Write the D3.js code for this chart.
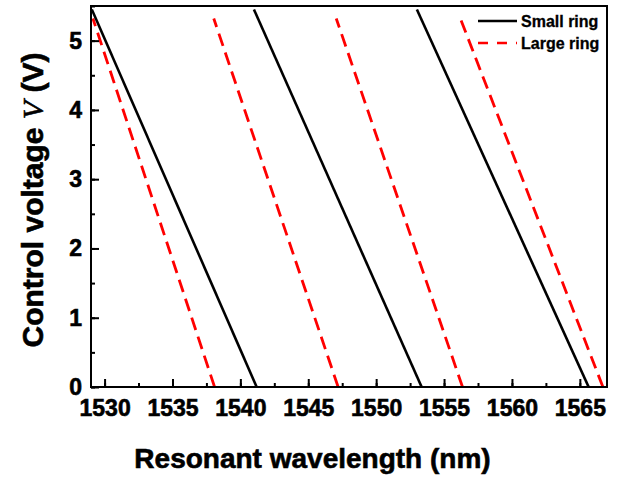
<!DOCTYPE html>
<html>
<head>
<meta charset="utf-8">
<script src="https://cdn.jsdelivr.net/npm/d3@7"></script>
<style>
  body { margin: 0; background: #fff; }
  text { font-family: "Liberation Sans", Arial, sans-serif; font-weight: bold; }
</style>
</head>
<body>
<div id="chart"></div>
<script>
// voltage at the ends of each line (V)
const smallRingV = [0, 5.45];
const largeRingV = [0, 5.32];
// resonant wavelength (nm) at those voltages, one pair per mode
const smallRingModes = [[1541.2, 1529.06], [1553.35, 1541.0], [1565.65, 1553.0]];
const largeRingModes = [[1538.1, 1529.14], [1547.2, 1538.04], [1556.36, 1547.06], [1566.7, 1556.2]];
const xTicks = [1530, 1535, 1540, 1545, 1550, 1555, 1560, 1565];
const yTicks = [0, 1, 2, 3, 4, 5];
const legendLabels = ["Small ring", "Large ring"];

const W = 627, H = 479;
const margin = {top: 6, right: 20, bottom: 92, left: 91}
    , width = W - margin.left - margin.right
    , height = H - margin.top - margin.bottom;

const x = d3.scaleLinear().domain([1529, 1567]).range([0, width]);
const y = d3.scaleLinear().domain([0, 5.5]).range([height, 0]);

const svg = d3.select("#chart").append("svg")
    .attr("width", W)
    .attr("height", H)
    .append("g")
    .attr("transform", "translate(" + margin.left + "," + margin.top + ")");

// clip so lines stay inside the frame
svg.append("clipPath").attr("id", "clip")
    .append("rect").attr("width", width).attr("height", height);

const line = d3.line().x(d => x(d[0])).y(d => y(d[1]));
const plot = svg.append("g").attr("clip-path", "url(#clip)");

largeRingModes.forEach(m => {
    plot.append("path")
        .datum(m.map((wl, i) => [wl, largeRingV[i]]))
        .attr("d", line)
        .attr("fill", "none")
        .attr("stroke", "#ff0000")
        .attr("stroke-width", 2.8)
        .attr("stroke-dasharray", "13,7");
});
smallRingModes.forEach(m => {
    plot.append("path")
        .datum(m.map((wl, i) => [wl, smallRingV[i]]))
        .attr("d", line)
        .attr("fill", "none")
        .attr("stroke", "#000")
        .attr("stroke-width", 2.6);
});

// axes: minor + major ticks pointing inward
const xAxis = svg.append("g")
    .attr("transform", "translate(0," + height + ")")
    .call(d3.axisBottom(x).tickValues(d3.range(1530, 1567, 2.5)).tickSize(-4).tickFormat(""));
xAxis.append("g").call(d3.axisBottom(x).tickValues(xTicks).tickSize(-8).tickPadding(13).tickFormat(d3.format("d")));
const yAxis = svg.append("g")
    .call(d3.axisLeft(y).tickValues(d3.range(0, 5.51, 0.5)).tickSize(-4).tickFormat(""));
yAxis.append("g").call(d3.axisLeft(y).tickValues(yTicks).tickSize(-8).tickPadding(9).tickFormat(d3.format("d")));

svg.selectAll(".domain").remove();
svg.selectAll(".tick line").attr("stroke", "#000").attr("stroke-width", 2);
svg.selectAll(".tick text").attr("fill", "#000")
    .attr("stroke", "#000").attr("stroke-width", 0.6)
    .style("font-size", "23px");

// frame
svg.append("rect")
    .attr("width", width).attr("height", height)
    .attr("fill", "none").attr("stroke", "#000").attr("stroke-width", 2);

// axis titles
svg.append("text")
    .attr("x", (137 + 488) / 2 - margin.left).attr("y", height + 81)
    .attr("text-anchor", "middle")
    .attr("stroke", "#000").attr("stroke-width", 0.6)
    .style("font-size", "28px")
    .text("Resonant wavelength (nm)");

const yTitle = svg.append("text")
    .attr("transform", "translate(" + (-48) + "," + (200 - margin.top) + ") rotate(-90)")
    .attr("text-anchor", "middle")
    .attr("stroke", "#000").attr("stroke-width", 0.6)
    .style("font-size", "30px");
yTitle.append("tspan").text("Control voltage ");
yTitle.append("tspan").text("V")
    .style("font-family", "'Liberation Serif', 'Times New Roman', serif")
    .style("font-style", "italic").style("font-weight", "normal");
yTitle.append("tspan").text(" (V)");

// legend
const legend = svg.append("g").attr("transform", "translate(" + (width - 129) + ",15)");
legendLabels.forEach((lab, i) => {
    const g = legend.append("g").attr("transform", "translate(0," + (i * 22) + ")");
    g.append("line").attr("x1", 0).attr("x2", 39).attr("y1", 0).attr("y2", 0)
        .attr("stroke", i === 0 ? "#000" : "#ff0000").attr("stroke-width", 2.6)
        .attr("stroke-dasharray", i === 0 ? null : "10,9");
    g.append("text").attr("x", 43).attr("y", 6)
        .attr("stroke", "#000").attr("stroke-width", 0.3)
        .style("font-size", "16px").text(lab);
});
</script>
</body>
</html>
